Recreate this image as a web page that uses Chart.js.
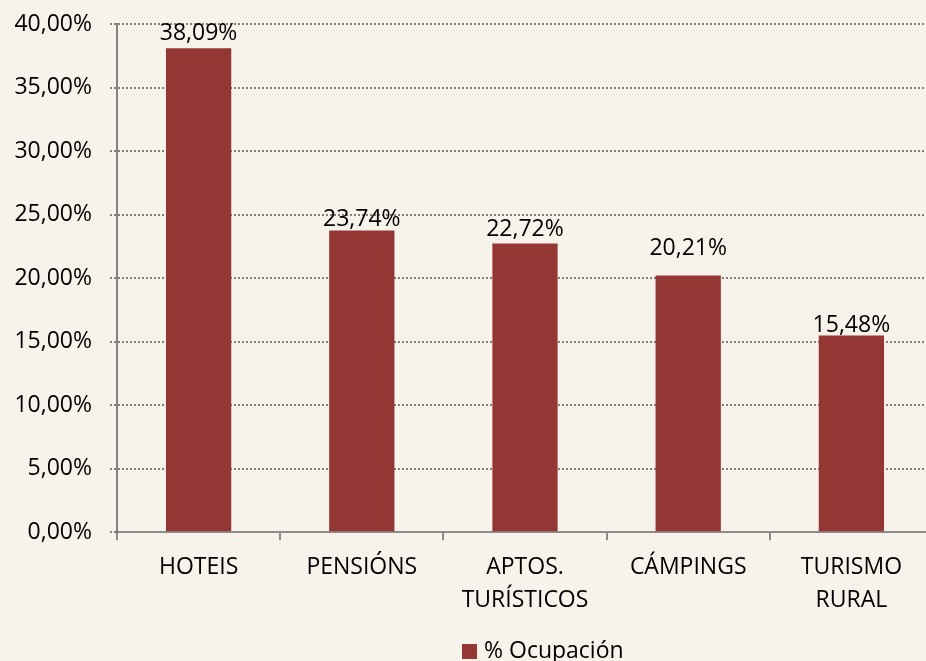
<!DOCTYPE html>
<html>
<head>
<meta charset="utf-8">
<script src="https://cdn.jsdelivr.net/npm/chart.js@4/dist/chart.umd.min.js"></script>
<style>
    html, body {
        margin: 0;
        padding: 0;
        width: 926px;
        height: 661px;
        overflow: hidden;
        background: #f7f3eb;
        font-family: "Open Sans", sans-serif;
    }
    .wrap {
        position: relative;
        width: 940px;
        height: 661px;
    }
    .legend {
        position: absolute;
        left: 462px;
        top: 633px;
        height: 32px;
        line-height: 32px;
        font-size: 23px;
        color: #000;
        white-space: nowrap;
    }
    .legend span.box {
        display: inline-block;
        width: 15px;
        height: 15px;
        background: #943634;
        margin-right: 7px;
        vertical-align: -1px;
    }
</style>
</head>
<body>
<div class="wrap">
    <canvas id="myChart" width="940" height="661"></canvas>
    <div class="legend"><span class="box"></span>% Ocupación</div>
</div>
<script>
const categories = ["HOTEIS", ["PENSIÓNS"], ["APTOS.", "TURÍSTICOS"], ["CÁMPINGS"], ["TURISMO", "RURAL"]];
const occupancy = [38.09, 23.74, 22.72, 20.21, 15.48];
const seriesName = "% Ocupación";
const yTicks = [0, 5, 10, 15, 20, 25, 30, 35, 40];

const fontFamily = "'Open Sans', sans-serif";
const barColor = "#943634";
const gridColor = "rgba(115, 115, 115, 0.9)";

function formatPct(value) {
    return value.toFixed(2).replace(".", ",") + "%";
}

// value labels above each bar (gap in px per bar)
const valueLabels = {
    id: "valueLabels",
    afterDatasetsDraw(chart, args, opts) {
        const ctx = chart.ctx;
        const meta = chart.getDatasetMeta(0);
        ctx.save();
        ctx.font = "23px " + fontFamily;
        ctx.fillStyle = "#000";
        ctx.textAlign = "center";
        ctx.textBaseline = "alphabetic";
        meta.data.forEach((bar, i) => {
            const gap = opts.gaps[i] || 6;
            ctx.fillText(formatPct(occupancy[i]), bar.x, bar.y - gap);
        });
        ctx.restore();
    }
};

Chart.defaults.font.family = fontFamily;
Chart.defaults.color = "#000";

new Chart("myChart", {
    type: "bar",
    data: {
        labels: categories,
        datasets: [{
            label: seriesName,
            data: occupancy,
            backgroundColor: barColor,
            borderWidth: 0,
            barPercentage: 0.4,
            categoryPercentage: 1
        }]
    },
    options: {
        responsive: false,
        animation: false,
        layout: {
            padding: { top: 24, right: 7, bottom: 34, left: 0 }
        },
        scales: {
            x: {
                grid: {
                    display: true,
                    drawOnChartArea: false,
                    drawTicks: true,
                    tickLength: 8,
                    color: "#8c8c8c",
                    lineWidth: 2,
                    offset: true
                },
                border: {
                    display: true,
                    color: "#8c8c8c",
                    width: 2
                },
                ticks: {
                    autoSkip: false,
                    maxRotation: 0,
                    padding: 10,
                    color: "#000",
                    font: { size: 23, lineHeight: 1.45 }
                }
            },
            y: {
                min: 0,
                max: 40,
                afterBuildTicks(scale) {
                    scale.ticks = yTicks.map(v => ({ value: v }));
                },
                afterFit(scale) {
                    scale.width = 117;
                    scale.paddingTop = 0;
                    scale.paddingBottom = 0;
                },
                grid: {
                    color: gridColor,
                    lineWidth: 2,
                    tickLength: 7,
                    tickBorderDash: [2, 2],
                    drawTicks: true
                },
                border: {
                    display: true,
                    dash: [2, 2],
                    color: gridColor,
                    width: 2
                },
                ticks: {
                    padding: 18,
                    color: "#000",
                    font: { size: 23 },
                    callback: value => formatPct(value)
                }
            }
        },
        plugins: {
            legend: { display: false },
            tooltip: { enabled: false },
            valueLabels: { gaps: [8, 5, 8, 20, 4] }
        }
    },
    plugins: [valueLabels]
});
</script>
</body>
</html>
